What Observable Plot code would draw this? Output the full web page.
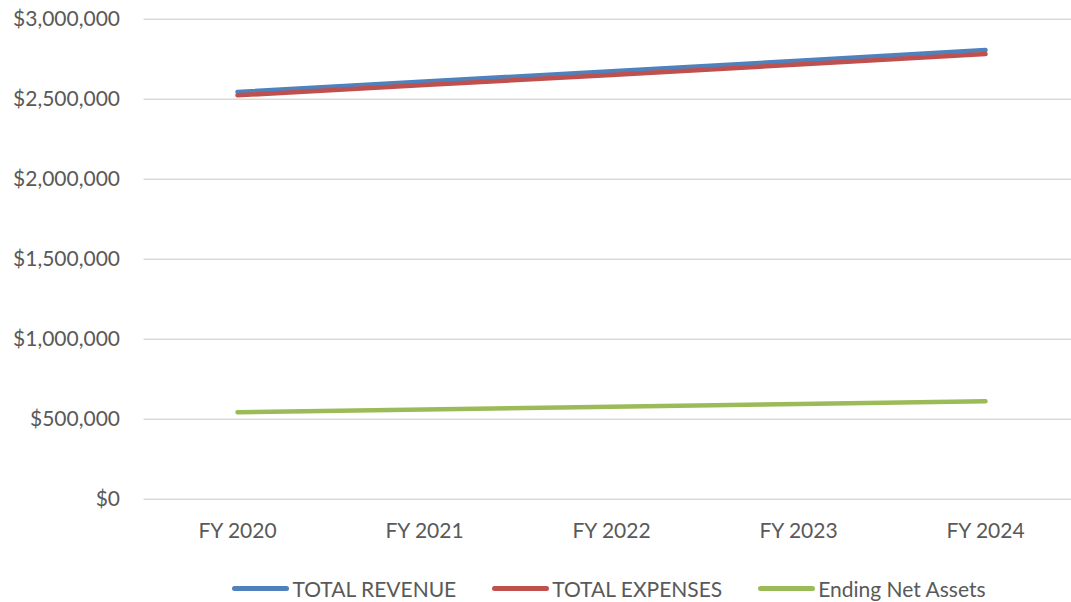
<!DOCTYPE html>
<html>
<head>
<meta charset="utf-8">
<script src="https://cdn.jsdelivr.net/npm/d3@7"></script>
<script src="https://cdn.jsdelivr.net/npm/@observablehq/plot@0.6"></script>
<style>
  html, body { margin: 0; padding: 0; background: #fff; overflow: hidden; }
  #chart svg { display: block; }
  #legend { display: flex; justify-content: center; align-items: center; gap: 36px;
    font-family: Lato, "Open Sans", sans-serif; font-size: 21px; line-height: 25px; color: #595959;
    height: 47px; padding-top: 21px; padding-left: 147px; box-sizing: border-box; width: 1071px; align-items: flex-start; }
  .item { display: flex; align-items: center; height: 25px; }
  .sw { width: 57px; height: 5px; border-radius: 3px; margin-right: 3px; }
</style>
</head>
<body>
<div id="chart"></div>
<div id="legend"></div>
<script>
const years = ["FY 2020", "FY 2021", "FY 2022", "FY 2023", "FY 2024"];
const seriesNames = ["TOTAL REVENUE", "TOTAL EXPENSES", "Ending Net Assets"];
const revenue = [2545000, 2610000, 2675000, 2740000, 2807000];
const expenses = [2524000, 2588000, 2652000, 2717000, 2782000];
const netAssets = [544000, 561000, 578000, 595000, 612000];
const yTicks = [0, 500000, 1000000, 1500000, 2000000, 2500000, 3000000];
const colors = ["#4F81BD", "#C0504D", "#9BBB59"];

const valuesBySeries = [revenue, expenses, netAssets];
const data = [];
seriesNames.forEach((s, i) => years.forEach((y, j) => data.push({series: s, year: y, value: valuesBySeries[i][j]})));

const chart = Plot.plot({
  width: 1071,
  height: 555,
  marginLeft: 143.5,
  marginRight: 0,
  marginTop: 18.7,
  marginBottom: 56.3,
  style: {fontFamily: "Lato, 'Open Sans', sans-serif", fontSize: "21px", color: "#595959", background: "#fff"},
  x: {type: "point", domain: years, padding: 0.5, range: [143.5, 1078.5], label: null},
  y: {domain: [0, 3000000], label: null},
  color: {domain: seriesNames, range: colors},
  marks: [
    Plot.gridY(yTicks, {stroke: "#d9d9d9", strokeOpacity: 1, strokeWidth: 1.5}),
    Plot.axisY(yTicks, {tickSize: 0, tickPadding: 24, tickFormat: d3.format("$,.0f"), fill: "#595959", label: null}),
    Plot.axisX({tickSize: 0, tickPadding: 23.5, fill: "#595959", label: null}),
    Plot.line(data, {x: "year", y: "value", z: "series", stroke: "series", strokeWidth: 4.5, strokeLinecap: "round", strokeLinejoin: "round"})
  ]
});
document.getElementById("chart").appendChild(chart);

const legend = document.getElementById("legend");
seriesNames.forEach((s, i) => {
  const it = document.createElement("div");
  it.className = "item";
  const sw = document.createElement("div");
  sw.className = "sw";
  sw.style.background = colors[i];
  const t = document.createElement("span");
  t.textContent = s;
  it.appendChild(sw); it.appendChild(t);
  legend.appendChild(it);
});
</script>
</body>
</html>
